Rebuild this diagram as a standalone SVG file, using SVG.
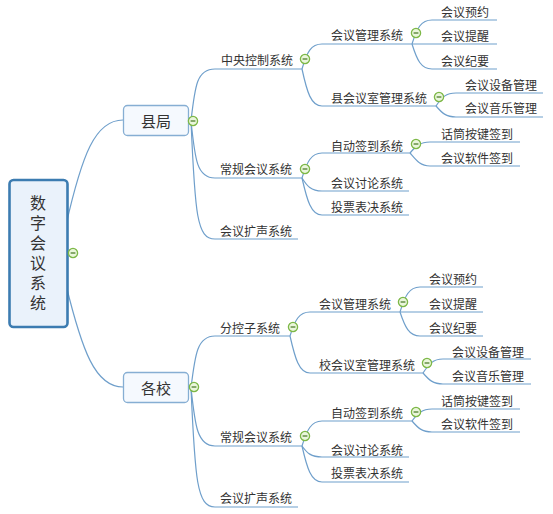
<svg xmlns="http://www.w3.org/2000/svg" width="553" height="514" viewBox="0 0 553 514">
<style>
.c{fill:none;stroke:#6F9FCB;stroke-width:1.2}
.t{font-family:"Noto Sans CJK SC","Microsoft YaHei",sans-serif;font-size:12px;fill:#333;dominant-baseline:central}
.bt{font-family:"Noto Sans CJK SC",sans-serif;font-size:15px;fill:#333;dominant-baseline:central;text-anchor:middle}
.rt{font-family:"Noto Sans CJK SC",sans-serif;font-size:16px;fill:#333;writing-mode:vertical-rl;letter-spacing:4px}
.box{fill:#F5F9FE;stroke:#86AED3;stroke-width:1.3}
.tg circle{fill:#EAF6DC;stroke:#7DB847;stroke-width:1.3}
.tg line{stroke:#4F7F2E;stroke-width:1.3}
</style>
<defs>
<g id="tog" class="tg"><circle r="4.6"/><line x1="-2.4" y1="0" x2="2.4" y2="0"/></g>
</defs>
<rect width="553" height="514" fill="#fff"/>
<g id="connectors">
<path class="c" d="M66,225 C82,155 95,120 123,120"/>
<path class="c" d="M66,285 C82,350 95,387 123,387"/>
<path class="c" d="M191,121 C195,85 197,69 215,69 L302,69"/>
<path class="c" d="M191,121 C195,160 197,178 215,178 L302,178"/>
<path class="c" d="M191,121 C195,215 197,239 215,239 L298,239"/>
<path class="c" d="M302,69 C307,52 311,44 322,44 L412,44"/>
<path class="c" d="M302,69 C307,92 311,106 322,106 L436,106"/>
<path class="c" d="M412,44 C417,28 421,20 432,20 L497,20"/>
<path class="c" d="M412,44 L497,44"/>
<path class="c" d="M412,44 C417,60 421,69 432,69 L497,69"/>
<path class="c" d="M436,106 C442,97 446,93 456,93 L543,93"/>
<path class="c" d="M436,106 C442,113 446,117 456,117 L543,117"/>
<path class="c" d="M302,178 C307,162 311,153 322,153 L410,153"/>
<path class="c" d="M302,178 C307,186 311,191 322,191 L409,191"/>
<path class="c" d="M302,178 C307,200 311,215 322,215 L409,215"/>
<path class="c" d="M410,153 C416,146 420,142 430,142 L520,142"/>
<path class="c" d="M410,153 C416,160 420,166 430,166 L520,166"/>
<path class="c" d="M191,388 C195,355 197,336 215,336 L290,336"/>
<path class="c" d="M191,388 C195,425 197,446 215,446 L302,446"/>
<path class="c" d="M191,388 C195,480 197,507 215,507 L298,507"/>
<path class="c" d="M290,336 C295,320 299,312 310,312 L400,312"/>
<path class="c" d="M290,336 C295,358 299,373 310,373 L423,373"/>
<path class="c" d="M400,312 C405,296 409,287 420,287 L483,287"/>
<path class="c" d="M400,312 L483,312"/>
<path class="c" d="M400,312 C405,327 409,336 420,336 L483,336"/>
<path class="c" d="M423,373 C429,364 433,359 443,359 L531,359"/>
<path class="c" d="M423,373 C429,380 433,384 443,384 L531,384"/>
<path class="c" d="M302,446 C307,430 311,421 322,421 L412,421"/>
<path class="c" d="M302,446 C307,453 311,457 322,457 L409,457"/>
<path class="c" d="M302,446 C307,468 311,482 322,482 L409,482"/>
<path class="c" d="M412,421 C418,413 422,409 432,409 L520,409"/>
<path class="c" d="M412,421 C418,428 422,432 432,432 L520,432"/>
</g>
<g id="root">
<rect x="9.5" y="180" width="58" height="147" rx="4" fill="#EAF2FB" stroke="#3C7CB1" stroke-width="2.6"/>
<text class="rt" x="38" y="195">数字会议系统</text>
<use href="#tog" x="73" y="253"/>
</g>
<g id="xianju">
<rect class="box" x="123.5" y="105.5" width="65" height="30" rx="4"/>
<text class="bt" x="156" y="120">县局</text>
<use href="#tog" x="193" y="121"/>
</g>
<g id="zhongyang"><text class="t" x="221" y="59">中央控制系统</text><use href="#tog" x="305" y="59"/></g>
<g id="hygl1"><text class="t" x="331" y="34">会议管理系统</text><use href="#tog" x="416" y="33"/></g>
<g id="yy1"><text class="t" x="441" y="11">会议预约</text></g>
<g id="tx1"><text class="t" x="441" y="35">会议提醒</text></g>
<g id="jy1"><text class="t" x="441" y="60">会议纪要</text></g>
<g id="xhys"><text class="t" x="331" y="97">县会议室管理系统</text><use href="#tog" x="439" y="97"/></g>
<g id="sb1"><text class="t" x="465" y="84">会议设备管理</text></g>
<g id="yl1"><text class="t" x="465" y="107">会议音乐管理</text></g>
<g id="cg1"><text class="t" x="220" y="168">常规会议系统</text><use href="#tog" x="305" y="169"/></g>
<g id="zd1"><text class="t" x="331" y="145">自动签到系统</text><use href="#tog" x="416" y="144"/></g>
<g id="ht1"><text class="t" x="441" y="133">话筒按键签到</text></g>
<g id="rj1"><text class="t" x="441" y="157">会议软件签到</text></g>
<g id="tl1"><text class="t" x="331" y="182">会议讨论系统</text></g>
<g id="tp1"><text class="t" x="331" y="206">投票表决系统</text></g>
<g id="ks1"><text class="t" x="220" y="230">会议扩声系统</text></g>
<g id="gexiao">
<rect class="box" x="123.5" y="372.5" width="65" height="30" rx="4"/>
<text class="bt" x="156" y="387">各校</text>
<use href="#tog" x="194" y="387"/>
</g>
<g id="fk"><text class="t" x="220" y="327">分控子系统</text><use href="#tog" x="293" y="327"/></g>
<g id="hygl2"><text class="t" x="319" y="303">会议管理系统</text><use href="#tog" x="403" y="302"/></g>
<g id="yy2"><text class="t" x="429" y="278">会议预约</text></g>
<g id="tx2"><text class="t" x="429" y="303">会议提醒</text></g>
<g id="jy2"><text class="t" x="429" y="327">会议纪要</text></g>
<g id="xiaohys"><text class="t" x="319" y="364">校会议室管理系统</text><use href="#tog" x="427" y="363"/></g>
<g id="sb2"><text class="t" x="452" y="351">会议设备管理</text></g>
<g id="yl2"><text class="t" x="452" y="375">会议音乐管理</text></g>
<g id="cg2"><text class="t" x="220" y="436">常规会议系统</text><use href="#tog" x="305" y="436"/></g>
<g id="zd2"><text class="t" x="331" y="412">自动签到系统</text><use href="#tog" x="416" y="412"/></g>
<g id="ht2"><text class="t" x="441" y="400">话筒按键签到</text></g>
<g id="rj2"><text class="t" x="441" y="423">会议软件签到</text></g>
<g id="tl2"><text class="t" x="331" y="449">会议讨论系统</text></g>
<g id="tp2"><text class="t" x="331" y="472">投票表决系统</text></g>
<g id="ks2"><text class="t" x="220" y="497">会议扩声系统</text></g>
</svg>
